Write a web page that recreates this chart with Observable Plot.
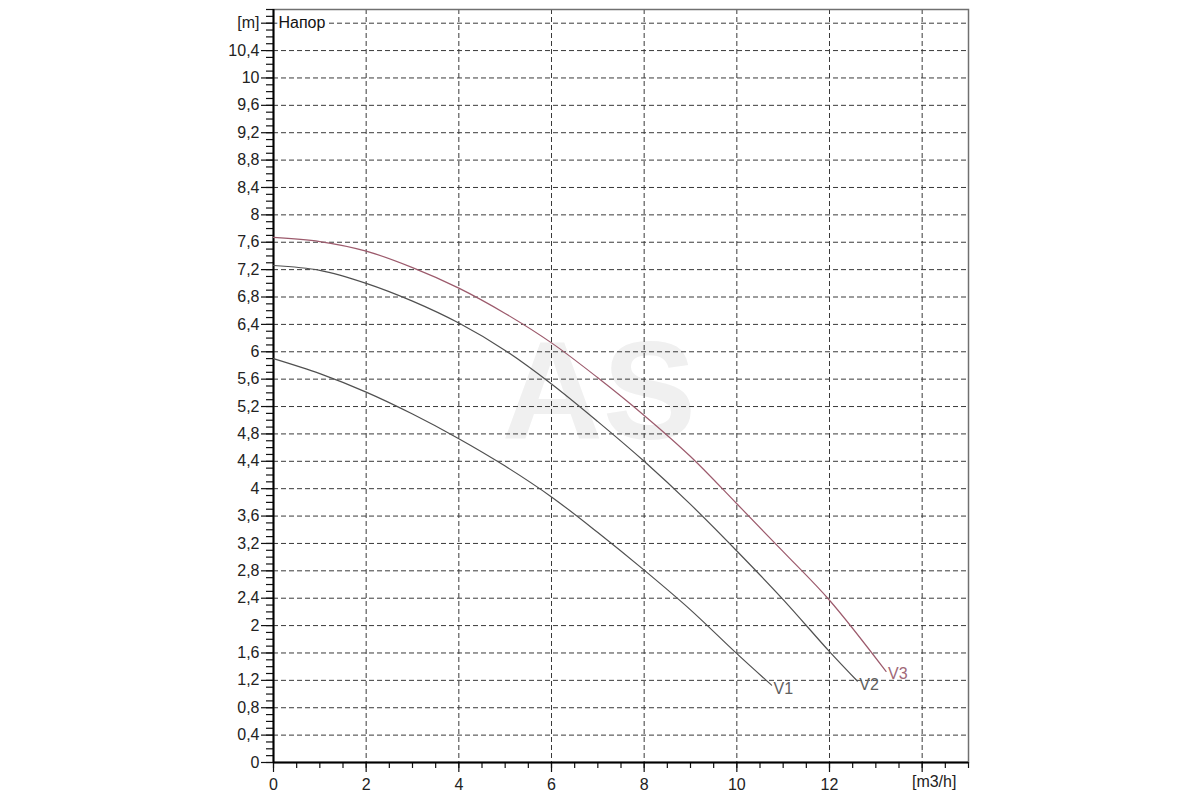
<!DOCTYPE html>
<html>
<head>
<meta charset="utf-8">
<script src="https://cdn.jsdelivr.net/npm/d3@7"></script>
<script src="https://cdn.jsdelivr.net/npm/@observablehq/plot@0.6"></script>
<style>
  html, body { margin: 0; padding: 0; background: #fff; }
  #chart svg { display: block; }
</style>
</head>
<body>
<div id="chart"></div>
<script>
// ---- data ----
const flowV1 = [0, 1, 2, 3, 4, 5, 6, 7, 8, 9, 10, 10.75];
const headV1 = [5.90, 5.68, 5.41, 5.09, 4.73, 4.33, 3.88, 3.36, 2.81, 2.23, 1.59, 1.13];

const flowV2 = [0, 1, 2, 3, 4, 5, 6, 7, 8, 9, 10, 11, 12, 12.6];
const headV2 = [7.26, 7.19, 7.00, 6.74, 6.42, 6.02, 5.53, 4.98, 4.40, 3.77, 3.09, 2.38, 1.62, 1.19];

const flowV3 = [0, 1, 2, 3, 4, 5, 6, 7, 8, 9, 10, 11, 12, 13.22];
const headV3 = [7.67, 7.61, 7.47, 7.23, 6.93, 6.56, 6.13, 5.62, 5.07, 4.47, 3.78, 3.08, 2.37, 1.33];

const seriesNames = ["V1", "V2", "V3"];
const seriesColors = ["#505050", "#505050", "#9c5a6c"];
const labelColors = ["#606060", "#606060", "#a06878"];

const yMajorTicks = [0, 0.4, 0.8, 1.2, 1.6, 2, 2.4, 2.8, 3.2, 3.6, 4, 4.4, 4.8, 5.2, 5.6, 6, 6.4, 6.8, 7.2, 7.6, 8, 8.4, 8.8, 9.2, 9.6, 10, 10.4, 10.8];
const yTickLabels = ["0", "0,4", "0,8", "1,2", "1,6", "2", "2,4", "2,8", "3,2", "3,6", "4", "4,4", "4,8", "5,2", "5,6", "6", "6,4", "6,8", "7,2", "7,6", "8", "8,4", "8,8", "9,2", "9,6", "10", "10,4", "[m]"];
const xMajorTicks = [0, 2, 4, 6, 8, 10, 12];
const xTickLabels = ["0", "2", "4", "6", "8", "10", "12"];
const xGridTicks = [2, 4, 6, 8, 10, 12, 14];
const xUnitTick = [14];
const xUnitLabel = "[m3/h]";
const yAxisTitle = "Напор";
const watermark = "AS";

// minor ticks (every 0.1 m and every 0.5 m3/h)
const yMinorTicks = d3.range(0, 111).map(i => +(i / 10).toFixed(1));
const xMinorTicks = d3.range(0, 31).map(i => i / 2);

// ---- build table ----
const flows = [flowV1, flowV2, flowV3];
const heads = [headV1, headV2, headV3];
const rows = [];
seriesNames.forEach((name, s) => {
  flows[s].forEach((f, i) => rows.push({pump: name, flow: f, head: heads[s][i], si: s}));
});

const font = "'Liberation Sans', Arial, sans-serif";

const marks = [
  Plot.text([watermark], {
    frameAnchor: "middle", dx: -22, dy: 8, text: d => d,
    fontSize: 140, fontWeight: "bold", fill: "#f0f0f0", fontFamily: font
  }),
  Plot.gridY(yMajorTicks.filter(d => d > 0), {stroke: "#3a3a3a", strokeOpacity: 1, strokeDasharray: "5,3", strokeWidth: 1}),
  Plot.gridX(xGridTicks, {stroke: "#3a3a3a", strokeOpacity: 1, strokeDasharray: "5,3", strokeWidth: 1}),
  Plot.frame({stroke: "#707070", strokeWidth: 1.5}),
  // minor ticks
  Plot.axisY(yMinorTicks, {tickSize: 7, tickFormat: () => "", stroke: "#111", strokeWidth: 1.2}),
  Plot.axisX(xMinorTicks, {tickSize: 6, tickFormat: () => "", stroke: "#111", strokeWidth: 1.2}),
  // major ticks and labels
  Plot.axisY(yMajorTicks, {
    tickSize: 12, tickPadding: 2, stroke: "#111", strokeWidth: 1.2,
    tickFormat: d => yTickLabels[yMajorTicks.indexOf(d)],
    fontSize: 16, fill: "#222", label: null
  }),
  Plot.axisX(xMajorTicks, {
    tickSize: 10, tickPadding: 6, stroke: "#111", strokeWidth: 1.2,
    tickFormat: d => xTickLabels[xMajorTicks.indexOf(d)],
    fontSize: 16, fill: "#222", label: null
  }),
  Plot.axisX(xUnitTick, {tickSize: 10, tickFormat: () => "", stroke: "#111", strokeWidth: 1.2, label: null}),
  Plot.text(xUnitTick, {
    x: d => d, frameAnchor: "bottom", dy: 24, dx: 12, text: () => xUnitLabel,
    fontSize: 16, fill: "#222", fontFamily: font
  }),
  // axis lines
  Plot.ruleX([0], {stroke: "#000", strokeWidth: 2}),
  Plot.ruleY([0], {stroke: "#000", strokeWidth: 2}),
  // y axis title inside the plot
  Plot.text([10.8], {
    x: 0, y: d => d, dx: 5, text: () => yAxisTitle, textAnchor: "start",
    fontSize: 16, fill: "#111", fontFamily: font, stroke: "#fff", strokeWidth: 5, paintOrder: "stroke"
  })
];

seriesNames.forEach((name, s) => {
  const data = rows.filter(r => r.pump === name);
  marks.push(Plot.line(data, {x: "flow", y: "head", curve: "catmull-rom", stroke: seriesColors[s], strokeWidth: 1.2}));
  marks.push(Plot.text(data.slice(-1), {
    x: "flow", y: "head", text: "pump", dx: 2, dy: s === 2 ? 2 : 4, textAnchor: "start",
    fontSize: 16, fill: labelColors[s], fontFamily: font
  }));
});

const chart = Plot.plot({
  width: 1200,
  height: 800,
  marginLeft: 273,
  marginRight: 232,
  marginTop: 9,
  marginBottom: 38,
  style: {fontFamily: font, fontSize: "16px", background: "#fff"},
  x: {domain: [0, 15], label: null},
  y: {domain: [0, 11], label: null},
  marks
});
document.getElementById("chart").appendChild(chart);
</script>
</body>
</html>
